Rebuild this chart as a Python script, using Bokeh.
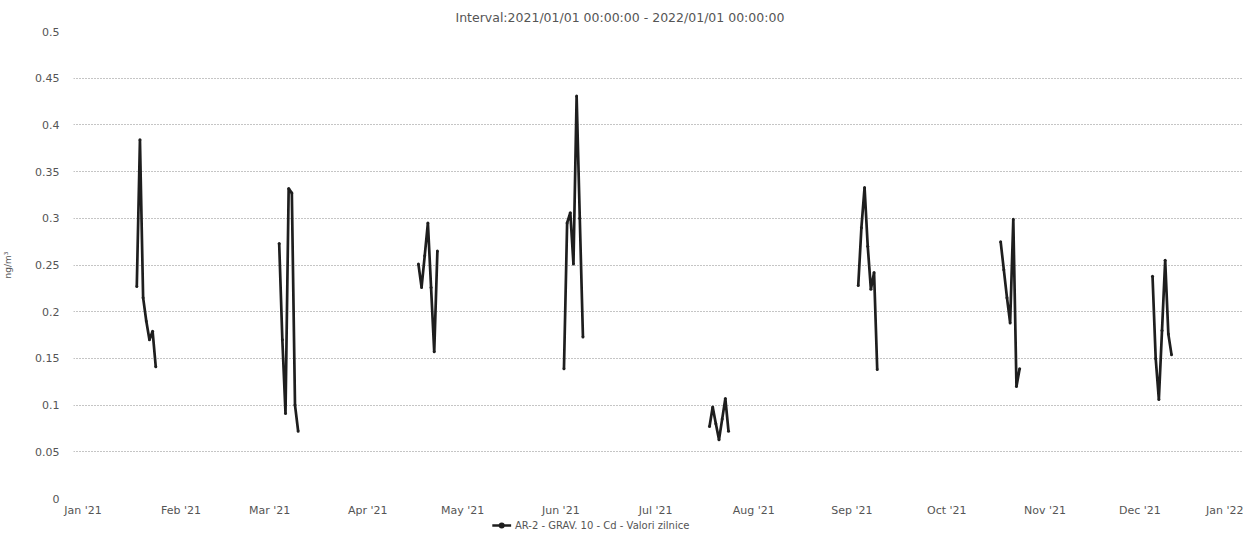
import numpy as np
import pandas as pd
from bokeh.plotting import figure
from bokeh.layouts import column
from bokeh.core.properties import value
from bokeh.models import (ColumnDataSource, FixedTicker, NumeralTickFormatter,
                          DatetimeTickFormatter, MonthsTicker, Range1d)
from bokeh.embed import file_html
from bokeh.resources import INLINE

# 8 sampling series of 7 consecutive days (Cd, ng/m3)
series_starts = ["2021-01-18", "2021-03-04", "2021-04-17", "2021-06-02",
                 "2021-07-18", "2021-09-03", "2021-10-18", "2021-12-05"]
cd_jan = [0.227, 0.384, 0.215, 0.190, 0.170, 0.179, 0.141]
cd_mar = [0.273, 0.170, 0.091, 0.332, 0.327, 0.100, 0.072]
cd_apr = [0.251, 0.226, 0.260, 0.295, 0.226, 0.157, 0.265]
cd_jun = [0.139, 0.295, 0.306, 0.251, 0.431, 0.300, 0.173]
cd_jul = [0.077, 0.098, 0.080, 0.063, 0.085, 0.107, 0.072]
cd_sep = [0.228, 0.290, 0.333, 0.270, 0.224, 0.242, 0.138]
cd_oct = [0.275, 0.245, 0.215, 0.188, 0.299, 0.120, 0.139]
cd_dec = [0.238, 0.150, 0.106, 0.180, 0.255, 0.176, 0.154]
series_values = [cd_jan, cd_mar, cd_apr, cd_jun, cd_jul, cd_sep, cd_oct, cd_dec]

y_ticks = [0, 0.05, 0.1, 0.15, 0.2, 0.25, 0.3, 0.35, 0.4, 0.45, 0.5]
title_text = "Interval:2021/01/01 00:00:00 - 2022/01/01 00:00:00"
legend_label = "AR-2 - GRAV. 10 - Cd - Valori zilnice"
y_label = "ng/m³"

xs, ys = [], []
for start, vals in zip(series_starts, series_values):
    dates = pd.date_range(start, periods=len(vals), freq="D")
    xs.extend(list(dates))
    ys.extend(vals)
    xs.append(dates[-1] + pd.Timedelta(hours=12))
    ys.append(np.nan)
src = ColumnDataSource(data=dict(x=xs, y=ys))

FONT = "DejaVu Sans"
TXT = "#555555"
LINE = "#1e1e1e"

p = figure(frame_width=1170, frame_height=467, output_backend="svg", toolbar_location=None,
           x_axis_type="datetime",
           x_range=Range1d(pd.Timestamp("2020-12-29 00:00"), pd.Timestamp("2022-01-02 18:00")),
           y_range=Range1d(0, 0.5),
           min_border_left=70, min_border_right=0, min_border_top=0, min_border_bottom=0,
           title=title_text, align="start")
p.outline_line_color = None
p.background_fill_color = "white"
p.border_fill_color = "white"

p.title.align = "left"
p.title.offset = 382
p.title.text_font = FONT
p.title.text_font_size = "12.5px"
p.title.text_font_style = "normal"
p.title.text_color = TXT
p.title.standoff = 14

p.line("x", "y", source=src, line_color=LINE, line_width=2.7)
p.scatter("x", "y", source=src, size=3, fill_color=LINE, line_color=None)

p.xgrid.grid_line_color = None
p.ygrid.grid_line_color = "#8a8a8a"
p.ygrid.grid_line_dash = "1 2"
p.ygrid.grid_line_width = 1

p.yaxis.ticker = FixedTicker(ticks=y_ticks)
p.yaxis.formatter = NumeralTickFormatter(format="0.[00]")
p.xaxis.ticker = MonthsTicker(months=list(range(12)))
p.xaxis.formatter = DatetimeTickFormatter(months="%b '%y", days="%b '%y")

for ax in (p.xaxis[0], p.yaxis[0]):
    ax.axis_line_color = None
    ax.major_tick_line_color = None
    ax.minor_tick_line_color = None
    ax.major_tick_out = 0
    ax.major_tick_in = 0
    ax.minor_tick_out = 0
    ax.major_label_text_font = FONT
    ax.major_label_text_font_size = "11px"
    ax.major_label_text_color = TXT

p.yaxis.major_label_standoff = 14
p.xaxis.major_label_standoff = 5
p.yaxis.axis_label = y_label
p.yaxis.axis_label_text_font = FONT
p.yaxis.axis_label_text_font_size = "9px"
p.yaxis.axis_label_text_font_style = "normal"
p.yaxis.axis_label_text_color = TXT
p.yaxis.axis_label_standoff = 19

# legend strip drawn below the chart
lg = figure(width=1240, height=12, output_backend="svg", toolbar_location=None,
            x_range=Range1d(0, 1240), y_range=Range1d(0, 1),
            x_axis_location=None, y_axis_location=None,
            min_border=0, min_border_left=0, min_border_right=0,
            min_border_top=0, min_border_bottom=0, align="start")
lg.grid.visible = False
lg.outline_line_color = None
lg.border_fill_color = "white"
lg.background_fill_color = "white"
lg.line([445, 465], [0.5, 0.5], line_color=LINE, line_width=2.6)
lg.scatter([455], [0.5], size=6, marker="circle", fill_color=LINE, line_color=None)
lg.text([469], [0.5], text=[legend_label], text_baseline="middle", text_align="left",
        text_font=value(FONT), text_font_size="10px", text_color=TXT)

layout = column(p, lg, spacing=0, align="start")
open("out.html", "w").write(file_html(layout, INLINE))
